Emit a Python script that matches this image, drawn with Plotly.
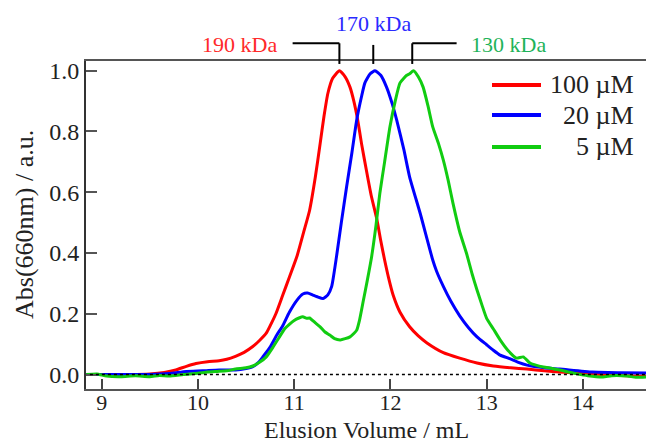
import plotly.graph_objects as go

# ---- data ----
vol_100 = [8.84, 9.3, 9.5, 9.65, 9.77, 9.88, 9.98, 10.1, 10.22, 10.3, 10.39, 10.48, 10.57, 10.64, 10.71,
           10.75, 10.81, 10.88, 10.95, 11.03, 11.10, 11.16, 11.22, 11.27, 11.31, 11.35, 11.40, 11.47,
           11.53, 11.58, 11.62, 11.66, 11.70, 11.75, 11.80, 11.86, 11.90, 11.94, 11.98, 12.03, 12.1, 12.2,
           12.29, 12.38, 12.55, 12.72, 12.9, 13.07, 13.25, 13.42, 13.6, 13.76, 14.1, 14.4, 14.66]
abs_100 = [0.0, 0.0, 0.002, 0.007, 0.015, 0.027, 0.036, 0.042, 0.045, 0.05, 0.06, 0.073, 0.092, 0.112, 0.136,
           0.16, 0.20, 0.26, 0.32, 0.39, 0.47, 0.54, 0.65, 0.76, 0.85, 0.925, 0.975, 1.0,
           0.98, 0.946, 0.90, 0.838, 0.76, 0.673, 0.59, 0.51, 0.44, 0.377, 0.32, 0.26, 0.205, 0.157,
           0.127, 0.104, 0.072, 0.054, 0.038, 0.028, 0.022, 0.018, 0.012, 0.008, 0.002, -0.003, -0.005]

vol_20 = [8.84, 9.5, 9.7, 9.88, 10.05, 10.22, 10.39, 10.5, 10.57, 10.63, 10.68, 10.75, 10.82, 10.88, 10.95,
          11.03, 11.09, 11.14, 11.19, 11.24, 11.30, 11.35, 11.39, 11.44, 11.49, 11.545, 11.60, 11.65,
          11.70, 11.735, 11.79, 11.84, 11.90, 11.96, 12.02, 12.065, 12.14, 12.20, 12.31, 12.44, 12.48,
          12.55, 12.63, 12.72, 12.81, 12.90, 13.0, 13.07, 13.14, 13.24, 13.33, 13.42, 13.6, 13.76, 14.1,
          14.4, 14.66]
abs_20 = [0.0, 0.0, 0.003, 0.01, 0.012, 0.015, 0.015, 0.02, 0.026, 0.04, 0.06, 0.09, 0.13, 0.16, 0.205,
          0.245, 0.265, 0.268, 0.262, 0.256, 0.25, 0.262, 0.29, 0.388, 0.50, 0.618, 0.73, 0.838,
          0.915, 0.96, 0.99, 1.0, 0.985, 0.946, 0.89, 0.838, 0.74, 0.65, 0.53, 0.377, 0.34,
          0.29, 0.24, 0.193, 0.155, 0.124, 0.098, 0.08, 0.064, 0.052, 0.04, 0.031, 0.022, 0.018, 0.008,
          0.006, 0.005]

vol_5 = [8.84, 8.95, 9.05, 9.2, 9.35, 9.5, 9.6, 9.7, 9.85, 10.0, 10.1, 10.2, 10.3, 10.39, 10.5, 10.57,
         10.64, 10.71, 10.78, 10.84, 10.9, 10.95, 11.0, 11.05, 11.09, 11.13, 11.16, 11.22, 11.27, 11.32,
         11.37, 11.42, 11.48, 11.53, 11.58, 11.62, 11.65, 11.68, 11.72, 11.76, 11.805, 11.85, 11.89, 11.94,
         11.995, 12.05, 12.10, 12.17, 12.20, 12.24, 12.29, 12.34, 12.39, 12.44, 12.50, 12.55, 12.60, 12.65,
         12.72, 12.79, 12.85, 12.90, 12.95, 13.0, 13.07, 13.14, 13.22, 13.31, 13.38, 13.45, 13.52, 13.59,
         13.68, 13.76, 13.85, 13.94, 14.05, 14.21, 14.3, 14.46, 14.55, 14.66]
abs_5 = [0.0, 0.002, -0.005, -0.007, -0.004, -0.007, -0.003, -0.005, 0.0, 0.004, 0.008, 0.01, 0.012, 0.018,
         0.022, 0.028, 0.04, 0.058, 0.09, 0.12, 0.15, 0.165, 0.178, 0.186, 0.19, 0.185, 0.186, 0.17, 0.157,
         0.14, 0.13, 0.118, 0.114, 0.118, 0.124, 0.135, 0.146, 0.18, 0.245, 0.31, 0.388, 0.49, 0.596, 0.70,
         0.815, 0.90, 0.96, 0.985, 0.99, 1.0, 0.98, 0.946, 0.885, 0.815, 0.76, 0.706, 0.64, 0.564,
         0.47, 0.40, 0.33, 0.278, 0.23, 0.185, 0.15, 0.114, 0.08, 0.054, 0.058, 0.038, 0.03, 0.025,
         0.02, 0.015, 0.008, 0.002, -0.004, -0.008, -0.004, -0.005, -0.009, -0.008]

series_names = ["100 µM", "20 µM", "5 µM"]
series_colors = ["#FF0000", "#0000FF", "#11CC11"]

# peak marker labels: (text, colour, peak volume)
peak_labels = ["190 kDa", "170 kDa", "130 kDa"]
peak_colors = ["#FF2A2A", "#2A2AFF", "#1FB35A"]
peak_vols = [11.47, 11.822, 12.227]

x_ticks = [9, 10, 11, 12, 13, 14]
y_ticks = [0.0, 0.2, 0.4, 0.6, 0.8, 1.0]
x_title = "Elusion Volume / mL"
y_title = "Abs(660nm) / a.u."

FONT = "Liberation Serif"

fig = go.Figure()
for xs, ys, nm, col in zip([vol_100, vol_20, vol_5], [abs_100, abs_20, abs_5], series_names, series_colors):
    fig.add_trace(go.Scatter(x=xs, y=ys, mode="lines", name=nm,
                             line=dict(color=col, width=3, shape="spline", smoothing=0.5),
                             showlegend=False))

# zero dotted baseline
fig.add_shape(type="line", xref="paper", yref="y", x0=0.007, x1=1, y0=0, y1=0,
              line=dict(color="black", width=1.5, dash="dot"))

# peak brackets (above plot)
yb_top = 1.054
yb_bot = 0.991
fig.add_shape(type="line", xref="x", yref="paper", x0=10.984, x1=peak_vols[0], y0=yb_top, y1=yb_top,
              line=dict(color="black", width=2))
fig.add_shape(type="line", xref="x", yref="paper", x0=peak_vols[0], x1=peak_vols[0], y0=yb_top, y1=yb_bot,
              line=dict(color="black", width=2))
fig.add_shape(type="line", xref="x", yref="paper", x0=peak_vols[1], x1=peak_vols[1], y0=1.049, y1=yb_bot,
              line=dict(color="black", width=2))
fig.add_shape(type="line", xref="x", yref="paper", x0=peak_vols[2], x1=peak_vols[2], y0=yb_top, y1=yb_bot,
              line=dict(color="black", width=2))
fig.add_shape(type="line", xref="x", yref="paper", x0=peak_vols[2], x1=12.688, y0=yb_top, y1=yb_top,
              line=dict(color="black", width=2))

label_pos = [(10.437, 1.049), (11.824, 1.113), (13.226, 1.049)]
for txt, col, (lx, ly) in zip(peak_labels, peak_colors, label_pos):
    fig.add_annotation(x=lx, y=ly, xref="x", yref="paper", text=txt, showarrow=False,
                       font=dict(family=FONT, size=22, color=col), xanchor="center", yanchor="middle")

# custom legend (long line samples, right-aligned text)
leg_y = [0.927, 0.835, 0.738]
for nm, col, ly in zip(series_names, series_colors, leg_y):
    fig.add_shape(type="line", xref="paper", yref="paper", x0=0.725, x1=0.8125, y0=ly, y1=ly,
                  line=dict(color=col, width=4))
    fig.add_annotation(x=0.982, y=ly, xref="paper", yref="paper", text=nm, showarrow=False,
                       font=dict(family=FONT, size=26, color="#222"), xanchor="right", yanchor="middle")

# axis titles placed explicitly
fig.add_annotation(x=0.5, y=-0.126, xref="paper", yref="paper", text=x_title, showarrow=False,
                   font=dict(family=FONT, size=24, color="#222"), xanchor="center", yanchor="middle")
fig.add_annotation(x=-0.1107, y=0.5, xref="paper", yref="paper", text=y_title, showarrow=False,
                   textangle=-90, font=dict(family=FONT, size=26, color="#222"),
                   xanchor="center", yanchor="middle")

fig.update_layout(
    width=646, height=444,
    margin=dict(l=86, r=0, t=61, b=55),
    plot_bgcolor="white", paper_bgcolor="white",
    font=dict(family=FONT, color="#222"),
    showlegend=False,
)
fig.update_xaxes(range=[8.837, 14.656], tickvals=x_ticks, ticktext=[str(v) for v in x_ticks],
                 ticks="inside", ticklen=10, tickwidth=1.5, tickcolor="#444",
                 showline=True, linecolor="#555", linewidth=2, mirror=True,
                 showgrid=False, zeroline=False, ticklabelstandoff=-7,
                 tickfont=dict(family=FONT, size=22, color="#222"))
fig.update_yaxes(range=[-0.0477, 1.032], tickvals=y_ticks, ticktext=[f"{v:.1f}" for v in y_ticks],
                 ticks="inside", ticklen=11, tickwidth=1.5, tickcolor="#555",
                 showline=True, linecolor="#333", linewidth=2, mirror=False,
                 showgrid=False, zeroline=False,
                 tickfont=dict(family=FONT, size=24, color="#222"))

fig.write_html("out.html")
